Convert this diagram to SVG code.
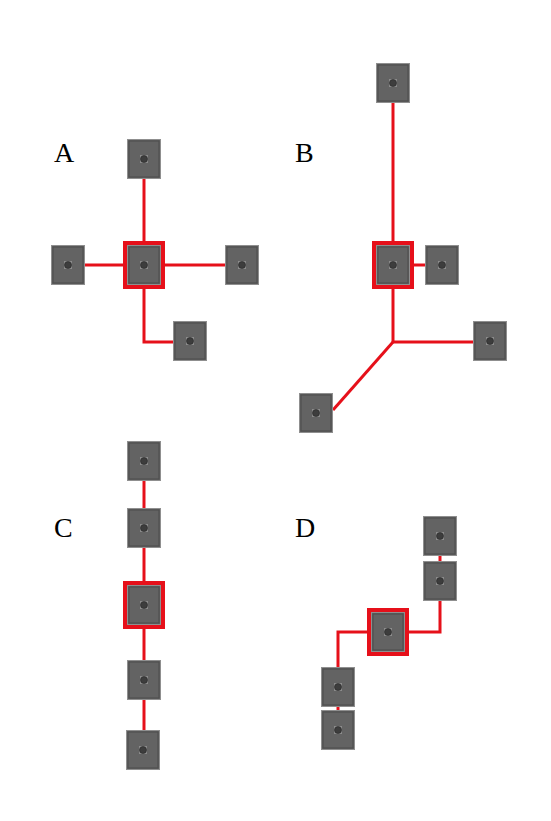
<svg xmlns="http://www.w3.org/2000/svg" xmlns:xlink="http://www.w3.org/1999/xlink" width="551" height="821" viewBox="0 0 551 821">
<style>
.lbl{font-family:"Liberation Serif","Times New Roman",serif;font-size:28px;fill:#000}
.edge{fill:none;stroke:#e6101a;stroke-width:3;stroke-linejoin:miter}
.hl{fill:none;stroke:#e6101a;stroke-width:4}
</style>
<defs>
<g id="node">
<rect x="0.5" y="0.5" width="33" height="39" fill="#636363" stroke="#8f8f8f" stroke-width="1"/>
<rect x="2" y="2" width="30" height="36" fill="none" stroke="#4d4d4d" stroke-width="1"/>
<rect x="13" y="16" width="8" height="8" fill="#8c8c8c"/>
<circle cx="17" cy="20" r="3.5" fill="#3d3d3d" stroke="#262626" stroke-width="0.6"/>
</g>
</defs>
<rect width="551" height="821" fill="#fff"/>
<text class="lbl" x="54" y="162">A</text>
<text class="lbl" x="295" y="162">B</text>
<text class="lbl" x="54" y="537">C</text>
<text class="lbl" x="295" y="537">D</text>
<g id="connectors">
<path class="edge" d="M144 179 V245"/>
<path class="edge" d="M85 265 H225"/>
<path class="edge" d="M144 285 V342 H173"/>
<path class="edge" d="M393 103 V343"/>
<path class="edge" d="M410 265 H425"/>
<path class="edge" d="M393 342 H473"/>
<path class="edge" d="M393 342 L333 410"/>
<path class="edge" d="M144 481 V730"/>
<path class="edge" d="M440 556 V561"/>
<path class="edge" d="M440 601 V632 H406"/>
<path class="edge" d="M371 632 H338 V667"/>
<path class="edge" d="M338 707 V710"/>
</g>
<g id="A-top" transform="translate(127,139)"><use xlink:href="#node"/></g>
<g id="A-center" transform="translate(127,245)"><use xlink:href="#node"/><rect class="hl" x="-2" y="-2" width="38" height="44"/></g>
<g id="A-left" transform="translate(51,245)"><use xlink:href="#node"/></g>
<g id="A-right" transform="translate(225,245)"><use xlink:href="#node"/></g>
<g id="A-bottom" transform="translate(173,321)"><use xlink:href="#node"/></g>
<g id="B-top" transform="translate(376,63)"><use xlink:href="#node"/></g>
<g id="B-center" transform="translate(376,245)"><use xlink:href="#node"/><rect class="hl" x="-2" y="-2" width="38" height="44"/></g>
<g id="B-right" transform="translate(425,245)"><use xlink:href="#node"/></g>
<g id="B-farright" transform="translate(473,321)"><use xlink:href="#node"/></g>
<g id="B-bottomleft" transform="translate(299,393)"><use xlink:href="#node"/></g>
<g id="C-1" transform="translate(127,441)"><use xlink:href="#node"/></g>
<g id="C-2" transform="translate(127,508)"><use xlink:href="#node"/></g>
<g id="C-center" transform="translate(127,585)"><use xlink:href="#node"/><rect class="hl" x="-2" y="-2" width="38" height="44"/></g>
<g id="C-4" transform="translate(127,660)"><use xlink:href="#node"/></g>
<g id="C-5" transform="translate(126,730)"><use xlink:href="#node"/></g>
<g id="D-top" transform="translate(423,516)"><use xlink:href="#node"/></g>
<g id="D-2" transform="translate(423,561)"><use xlink:href="#node"/></g>
<g id="D-center" transform="translate(371,612)"><use xlink:href="#node"/><rect class="hl" x="-2" y="-2" width="38" height="44"/></g>
<g id="D-4" transform="translate(321,667)"><use xlink:href="#node"/></g>
<g id="D-5" transform="translate(321,710)"><use xlink:href="#node"/></g>
</svg>
